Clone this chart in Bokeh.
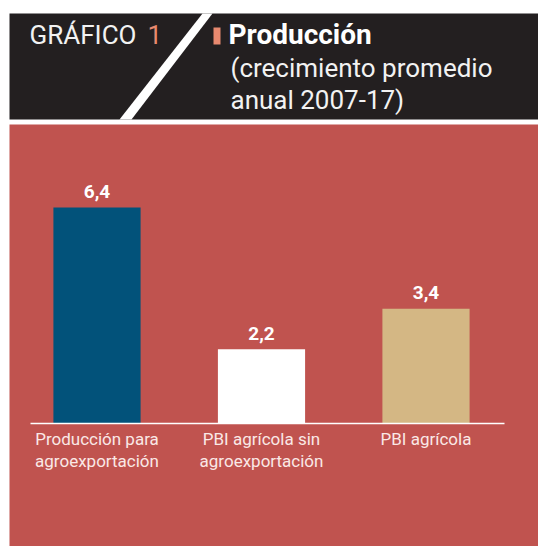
from bokeh.plotting import figure
from bokeh.models import Range1d
from bokeh.core.properties import value
from bokeh.embed import file_html
from bokeh.resources import INLINE

# ---- data ----
categories = ["Producción para\nagroexportación",
              "PBI agrícola sin\nagroexportación",
              "PBI agrícola"]
values = [6.4, 2.2, 3.4]
value_labels = ["6,4", "2,2", "3,4"]
bar_colors = ["#02527a", "#ffffff", "#d4b784"]

title_label = "GRÁFICO"
title_number = "1"
title_main = "Producción"
subtitle_lines = ["(crecimiento promedio", "anual 2007-17)"]

# ---- style / layout constants ----
DARK = "#231f20"
RED = "#c0534f"
SALMON = "#e8896f"
FONT = "Roboto"

W, H = 538, 546
PX_PER_X = 164.5      # pixels per category step
PX_PER_Y = 33.75      # pixels per unit of growth
X_START = -96.5 / PX_PER_X
Y_BASE_PX = 423       # baseline distance from top
Y_START = -(H - Y_BASE_PX) / PX_PER_Y
Y_END = Y_BASE_PX / PX_PER_Y

p = figure(width=W, height=H,
           x_range=Range1d(X_START, X_START + W / PX_PER_X),
           y_range=Range1d(Y_START, Y_END),
           output_backend="svg", toolbar_location=None, min_border=0,
           x_axis_location=None, y_axis_location=None,
           background_fill_color="white", border_fill_color="white",
           outline_line_color=None)
p.grid.visible = False
p.extra_x_ranges = {"px": Range1d(0, W)}
p.extra_y_ranges = {"px": Range1d(H, 0)}
px = dict(x_range_name="px", y_range_name="px")

# header decorations (pixel space)
p.quad(left=9, right=W, top=13, bottom=119, fill_color=DARK, line_color=None, **px)
p.patch([202, 212, 131, 119], [13, 13, 119, 119], fill_color="white", line_color=None, **px)
p.quad(left=213, right=220, top=27, bottom=44, fill_color=SALMON, line_color=None, **px)
p.text(x=[29], y=[34], text=[title_label], text_font=value(FONT),
       text_font_size="26px", text_color="#f2f2f2", text_baseline="alphabetic", **px)
p.text(x=[147], y=[34], text=[title_number], text_font=value(FONT),
       text_font_size="26px", text_color=SALMON, text_baseline="alphabetic", **px)
p.text(x=[228], y=[34], text=[title_main], text_font=value(FONT),
       text_font_size="28px", text_font_style="bold", text_color="white",
       text_baseline="alphabetic", **px)
p.text(x=[230, 230], y=[67, 99], text=subtitle_lines, text_font=value(FONT),
       text_font_size="26px", text_color="#f2f2f2", text_baseline="alphabetic", **px)

# red panel
p.quad(left=9, right=W, top=124, bottom=H, fill_color=RED, line_color=None, **px)

# bars
xs = list(range(len(values)))
p.vbar(x=xs, top=values, bottom=0, width=0.53, fill_color=bar_colors, line_color=None)

# value labels
p.text(x=xs, y=[v + 16 / PX_PER_Y for v in values], text=value_labels,
       text_font=value(FONT), text_font_size="19px", text_font_style="bold",
       text_color="white", text_align="center", text_baseline="alphabetic")

# baseline (axis line)
p.segment(x0=[X_START + 30 / PX_PER_X], x1=[X_START + 504 / PX_PER_X], y0=[0], y1=[0],
          line_color="white", line_width=1.5)

# category labels
p.text(x=xs, y=[-5 / PX_PER_Y] * len(xs), text=categories,
       text_font=value(FONT), text_font_size="17px", text_color="#fae8e6",
       text_align="center", text_baseline="top", text_line_height=1.1)

open("out.html", "w").write(file_html(p, INLINE))
